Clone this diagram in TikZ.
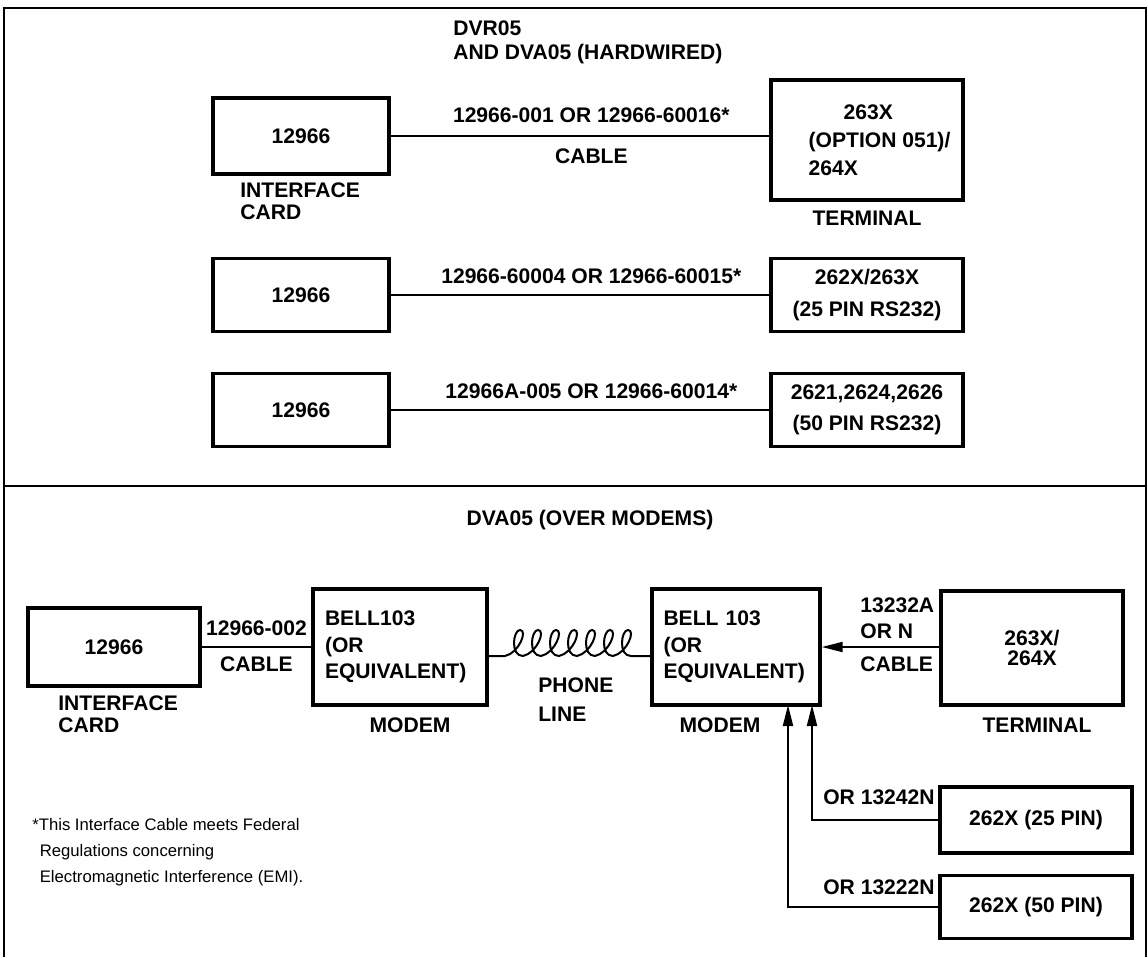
\documentclass[tikz,border=0pt]{standalone}
\usepackage{fontspec}
\setmainfont{Liberation Sans}
\usetikzlibrary{arrows.meta}

\begin{document}
\begin{tikzpicture}[x=0.02cm, y=-0.02cm,
    every node/.style={font=\fontsize{12}{13}\selectfont\bfseries},
    box/.style={draw, line width=0.07cm, inner sep=0pt, align=center},
    lbl/.style={inner sep=0pt, align=left},
    wire/.style={line width=0.04cm},
    arr/.style={wire, -{Triangle[length=0.42cm, width=0.2cm]}}]
    \useasboundingbox (0,0) rectangle (1148,957);

    % frame and divider
    \draw[line width=0.05cm] (4,957) -- (4,8) -- (1146,8) -- (1146,957);
    \draw[line width=0.05cm] (4,486) -- (1146,486);

    % hardwired part
    \node[lbl, anchor=west] (ttlA) at (453,28) {DVR05};
    \node[lbl, anchor=west] (ttlB) at (453,54) {AND DVA05 (HARDWIRED)};

    \node[box, minimum width=3.52cm, minimum height=1.52cm] (cardA) at (301,136) {12966};
    \node[box, minimum width=3.52cm, minimum height=1.46cm] (cardB) at (301,295) {12966};
    \node[box, minimum width=3.52cm, minimum height=1.46cm] (cardC) at (301,410) {12966};
    \node[lbl, anchor=north west] (cardAlbl) at (240,182) {INTERFACE\\CARD};

    \node[box, minimum width=3.84cm, minimum height=2.4cm, align=left] (termA) at (867,140)
        {\hspace*{1.2cm}263X\\[3pt]\hspace*{0.5cm}(OPTION 051)/\\[3pt]\hspace*{0.5cm}264X};
    \node[box, minimum width=3.84cm, minimum height=1.46cm] (termB) at (867,295)
        {262X/263X\\[5pt](25 PIN RS232)};
    \node[box, minimum width=3.84cm, minimum height=1.46cm] (termC) at (867,410)
        {2621,2624,2626\\[5pt](50 PIN RS232)};
    \node[lbl] (termAlbl) at (867,218) {TERMINAL};

    \draw[wire] (cardA.east) -- node[pos=0.53, above=0.24cm, inner sep=0pt] {12966-001 OR 12966-60016*}
        node[pos=0.53, below=0.24cm, inner sep=0pt] {CABLE} (cardA.east -| termA.west);
    \draw[wire] (cardB) -- node[pos=0.53, above=0.2cm, inner sep=0pt] {12966-60004 OR 12966-60015*} (termB);
    \draw[wire] (cardC) -- node[pos=0.53, above=0.2cm, inner sep=0pt] {12966A-005 OR 12966-60014*} (termC);

    % modem part
    \node[lbl] (ttlC) at (590,520) {DVA05 (OVER MODEMS)};

    \node[box, minimum width=3.44cm, minimum height=1.56cm] (cardD) at (114,647) {12966};
    \node[lbl, anchor=north west] (cardDlbl) at (58,695) {INTERFACE\\CARD};

    \node[box, minimum width=3.48cm, minimum height=2.32cm, text width=3cm, align=left] (modemA) at (400,647)
        {BELL103\\[2pt](OR\\[2pt]EQUIVALENT)};
    \node[lbl] (modemAlbl) at (410,725) {MODEM};
    \node[box, minimum width=3.36cm, minimum height=2.32cm, text width=2.9cm, align=left] (modemB) at (736,647)
        {BELL 103\\[2pt](OR\\[2pt]EQUIVALENT)};
    \node[lbl] (modemBlbl) at (720,725) {MODEM};

    \node[box, minimum width=3.64cm, minimum height=2.28cm] (termD) at (1032,648) {263X/\\[-2pt]264X};
    \node[lbl] (termDlbl) at (1037,725) {TERMINAL};

    \node[box, minimum width=3.84cm, minimum height=1.32cm] (pinA) at (1036,820) {262X (25 PIN)};
    \node[box, minimum width=3.84cm, minimum height=1.26cm] (pinB) at (1036,907) {262X (50 PIN)};

    \draw[wire] (cardD.east) -- node[above=0.2cm, inner sep=0pt] {12966-002}
        node[below=0.18cm, inner sep=0pt] {CABLE} (cardD.east -| modemA.west);

    % phone line
    \coordinate (coilL) at (505,656);
    \coordinate (coilR) at (631,656);
    \draw[wire] (modemA.east |- coilL) -- (coilL)
        \foreach \k in {0,...,6} {
            .. controls ({505+18*\k+14},653) and ({505+18*\k+23},630) .. ({505+18*\k+15},630)
            .. controls ({505+18*\k+8},630) and ({505+18*\k+5},656) .. ({505+18*\k+18},656)
        } -- (modemB.west |- coilR);
    \node[lbl, anchor=north west] (phone) at (538,677) {PHONE\\[4pt]LINE};

    \draw[arr] (termD.west |- modemB.east) -- (modemB.east);
    \node[lbl, anchor=south west] (cblD) at (860,639) {13232A\\[2pt]OR N};
    \node[lbl, anchor=north west] (cblDb) at (860,656) {CABLE};

    \coordinate (inA) at (788,705);
    \coordinate (inB) at (812,705);
    \draw[arr] (pinA.west) -| (inB);
    \draw[arr] (pinB.west) -| (inA);
    \node[lbl, anchor=south east] (orA) at (935,805) {OR 13242N};
    \node[lbl, anchor=south east] (orB) at (935,895) {OR 13222N};

    % footnote
    \node[lbl, anchor=north west, font=\fontsize{9.5}{14.7}\selectfont] (note) at (32,818)
        {*This Interface Cable meets Federal\\\hspace*{0.15cm}Regulations concerning\\\hspace*{0.15cm}Electromagnetic Interference (EMI).};
\end{tikzpicture}
\end{document}
